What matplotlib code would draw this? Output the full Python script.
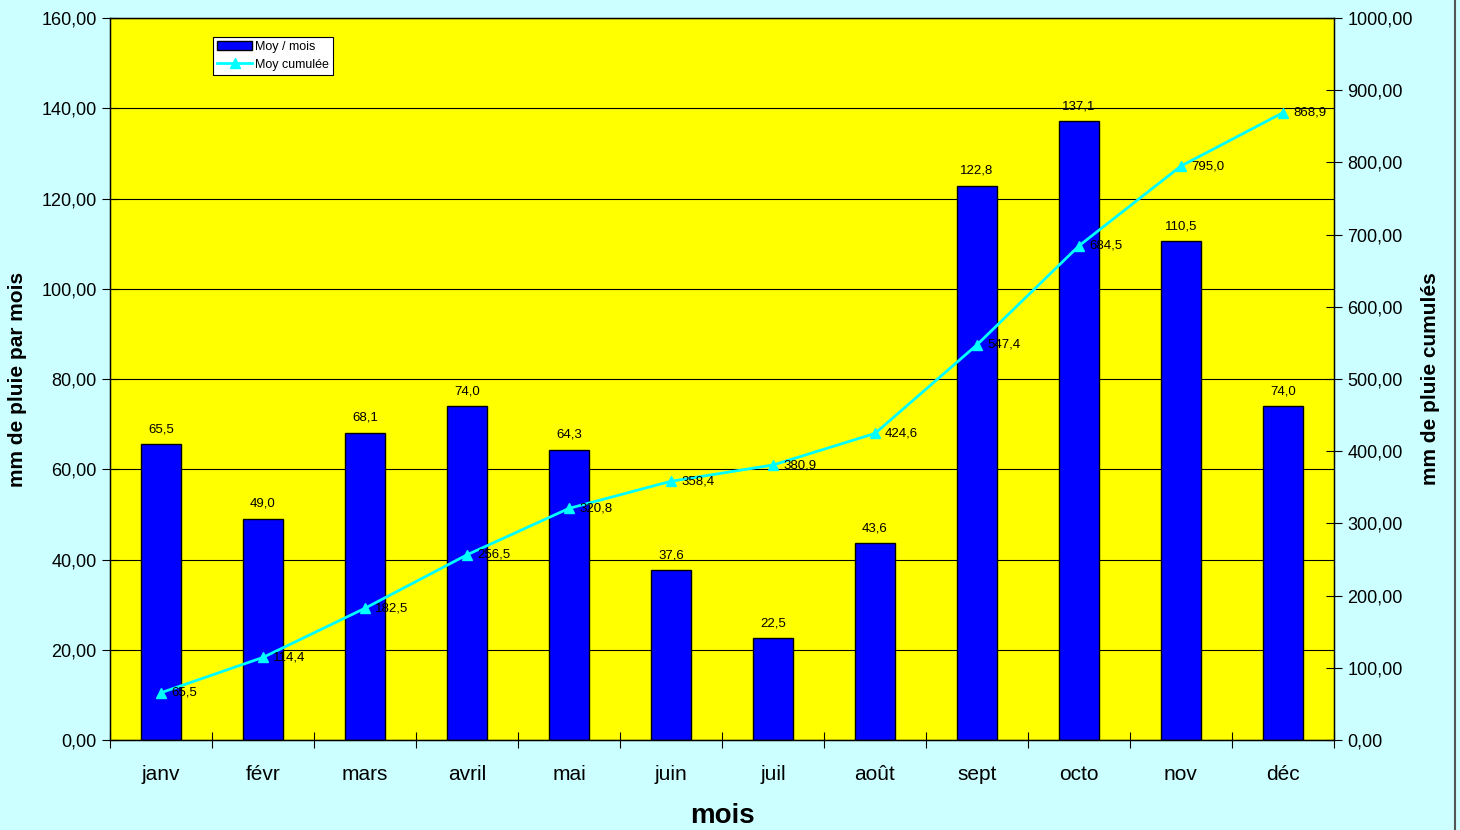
import matplotlib
matplotlib.use('Agg')
import matplotlib.pyplot as plt
import numpy as np
from matplotlib.lines import Line2D

# Monthly rainfall data (mm)
months = ['janv', 'févr', 'mars', 'avril', 'mai', 'juin', 'juil', 'août',
          'sept', 'octo', 'nov', 'déc']
monthly = [65.5, 49.0, 68.1, 74.0, 64.3, 37.6, 22.5, 43.6, 122.8, 137.1, 110.5, 74.0]
cumulative = [65.5, 114.4, 182.5, 256.5, 320.8, 358.4, 380.9, 424.6, 547.4, 684.5, 795.0, 868.9]

left_ticks = [0, 20, 40, 60, 80, 100, 120, 140, 160]
right_ticks = [0, 100, 200, 300, 400, 500, 600, 700, 800, 900, 1000]


def fr(v, nd=2):
    return f'{v:.{nd}f}'.replace('.', ',')


plt.rcParams['font.family'] = ['Liberation Sans', 'DejaVu Sans']

fig = plt.figure(figsize=(14.6, 8.3), dpi=100, facecolor='#CCFFFF')
ax = fig.add_axes([0.0753, 0.1084, 0.8384, 0.8699])
ax.set_facecolor('#FFFF00')

x = np.arange(len(months))
bars = ax.bar(x, monthly, width=0.4, color='#0000FF', edgecolor='black',
              linewidth=1, label='Moy / mois', zorder=2)
for xi, v in zip(x, monthly):
    ax.text(xi, v + 2, fr(v, 1), ha='center', va='bottom', fontsize=9.5, zorder=5)

ax.set_xlim(-0.5, len(months) - 0.5)
ax.set_ylim(0, 160)
ax.set_yticks(left_ticks)
ax.set_yticklabels([fr(v) for v in left_ticks], fontsize=13)
ax.grid(axis='y', color='black', linewidth=0.8)
ax.set_axisbelow(True)
ax.set_xticks(x)
ax.set_xticklabels(months, fontsize=15)
ax.set_xticks(np.arange(-0.5, len(months)), minor=True)
ax.tick_params(axis='x', which='major', length=0, pad=18)
ax.tick_params(axis='x', which='minor', direction='inout', length=12, width=0.8)
ax.tick_params(axis='y', direction='inout', length=12, width=0.8)
ax.set_xlabel('mois', fontsize=20, fontweight='bold', labelpad=14)
ax.set_ylabel('mm de pluie par mois', fontsize=15, fontweight='bold', labelpad=10)
for s in ax.spines.values():
    s.set_linewidth(1)

ax2 = ax.twinx()
line, = ax2.plot(x, cumulative, color='#00FFFF', linewidth=2, marker='^',
                 markersize=6.5, label='Moy cumulée', zorder=4)
for xi, v in zip(x, cumulative):
    ax2.text(xi + 0.1, v, fr(v, 1), ha='left', va='center', fontsize=9.5, zorder=5)
ax2.set_ylim(0, 1000)
ax2.set_yticks(right_ticks)
ax2.set_yticklabels([fr(v) for v in right_ticks], fontsize=13)
ax2.tick_params(axis='y', direction='inout', length=12, width=0.8)
ax2.set_ylabel('mm de pluie cumulés', fontsize=15, fontweight='bold', labelpad=6)

leg = ax.legend([bars, line], ['Moy / mois', 'Moy cumulée'], loc='upper left',
                bbox_to_anchor=(0.079, 0.983), fontsize=9, frameon=True,
                fancybox=False, edgecolor='black', framealpha=1,
                handlelength=2.8, borderpad=0.35, labelspacing=0.45,
                handletextpad=0.2)
leg.get_frame().set_linewidth(0.8)

fig.add_artist(Line2D([0.9966, 0.9966], [0, 1], color='#555555', linewidth=1.5))

plt.savefig('out.png', dpi=100, facecolor=fig.get_facecolor())
